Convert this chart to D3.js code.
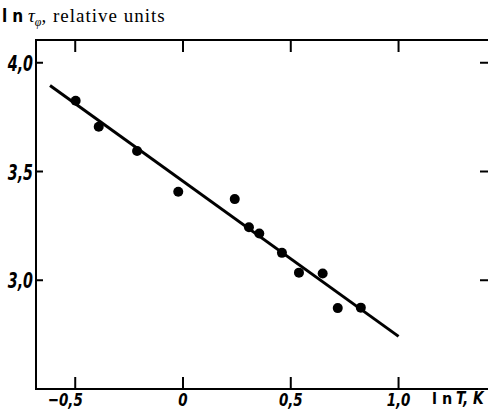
<!DOCTYPE html>
<html>
<head>
<meta charset="utf-8">
<script src="https://cdn.jsdelivr.net/npm/d3@7"></script>
<style>
  html, body { margin: 0; padding: 0; background: #fff; }
  svg { display: block; }
  .num { font-family: "DejaVu Sans Condensed", "DejaVu Sans", sans-serif; font-weight: bold; font-style: italic; }
  .ln { font-family: "DejaVu Sans Condensed", "DejaVu Sans", sans-serif; font-weight: bold; letter-spacing: 5px; }
  .serif { font-family: "Liberation Serif", "Times New Roman", serif; }
</style>
</head>
<body>
<div id="chart"></div>
<script>
// measured points (ln T, ln tau)
const lnT   = [-0.498, -0.391, -0.213, -0.022, 0.240, 0.306, 0.354, 0.459, 0.538, 0.648, 0.718, 0.825];
const lnTau = [3.825, 3.706, 3.594, 3.407, 3.373, 3.244, 3.215, 3.126, 3.035, 3.031, 2.872, 2.874];

// fitted line endpoints
const fitX = [-0.617, 1.0];
const fitY = [3.895, 2.742];

const xTicks = [-0.5, 0, 0.5, 1.0];
const xTickLabels = ["\u22120,5", "0", "0,5", "1,0"];
const yTicks = [3.0, 3.5, 4.0];
const yTickLabels = ["3,0", "3,5", "4,0"];

const width = 488, height = 415;
const plotL = 36, plotR = 488, plotT = 40, plotB = 389;

const svg = d3.select("#chart").append("svg")
  .attr("width", width)
  .attr("height", height);

const x = d3.scaleLinear().domain([-0.682, 1.415]).range([plotL, plotR]);
const y = d3.scaleLinear().domain([2.5, 4.1]).range([plotB, plotT + 1]);

// narrow text: squeeze horizontally to look like the print
function narrowText(cls, px, py, str, size, sx, anchor) {
  return svg.append("g")
    .attr("transform", `translate(${px},${py}) scale(${sx},1)`)
    .append("text")
    .attr("class", cls)
    .attr("font-size", size)
    .attr("text-anchor", anchor || "start")
    .text(str);
}

// frame
const frame = svg.append("g").attr("stroke", "#000").attr("stroke-width", 2).attr("fill", "none");
frame.append("line").attr("x1", plotL).attr("x2", plotL).attr("y1", plotT).attr("y2", plotB);
frame.append("line").attr("x1", plotL - 1).attr("x2", plotR).attr("y1", plotT).attr("y2", plotT);
frame.append("line").attr("x1", plotL - 1).attr("x2", plotR).attr("y1", plotB).attr("y2", plotB);

// x ticks (bottom + top, pointing inward)
frame.selectAll(".xb").data(xTicks).enter().append("line")
  .attr("x1", d => x(d)).attr("x2", d => x(d))
  .attr("y1", plotB).attr("y2", plotB - 12);
frame.selectAll(".xt").data(xTicks).enter().append("line")
  .attr("x1", d => x(d)).attr("x2", d => x(d))
  .attr("y1", plotT).attr("y2", plotT + 12);

// y ticks (left + right)
frame.selectAll(".yl").data(yTicks).enter().append("line")
  .attr("x1", plotL).attr("x2", plotL + 7)
  .attr("y1", d => y(d)).attr("y2", d => y(d));
frame.selectAll(".yr").data(yTicks).enter().append("line")
  .attr("x1", plotR - 8).attr("x2", plotR)
  .attr("y1", d => y(d)).attr("y2", d => y(d));

// tick labels
xTicks.forEach((d, i) => {
  narrowText("num", x(d) + (d < 0 ? -10 : 0), 406, xTickLabels[i], 18, 0.83, "middle");
});
yTicks.forEach((d, i) => {
  narrowText("num", 33, y(d) + 8, yTickLabels[i], 22, 0.72, "end");
});

// axis titles
narrowText("ln", 2, 22, "ln", 17, 1);
const yt = svg.append("text").attr("x", 28).attr("y", 22);
yt.append("tspan").attr("class", "serif").attr("font-style", "italic")
  .attr("font-size", 19).text("\u03C4");
yt.append("tspan").attr("class", "serif").attr("font-style", "italic")
  .attr("font-size", 12).attr("dy", 4).text("\u03C6");
yt.append("tspan").attr("class", "serif")
  .attr("font-size", 19).attr("dy", -4).attr("letter-spacing", 1).text(", relative units");

narrowText("ln", 432, 404, "ln", 16, 1);
narrowText("num", 456, 404, "T, K", 17, 0.9);

// fitted line
svg.append("line")
  .attr("x1", x(fitX[0])).attr("y1", y(fitY[0]))
  .attr("x2", x(fitX[1])).attr("y2", y(fitY[1]))
  .attr("stroke", "#000").attr("stroke-width", 3);

// points
svg.selectAll(".pt").data(lnT).enter().append("circle")
  .attr("cx", d => x(d))
  .attr("cy", (d, i) => y(lnTau[i]))
  .attr("r", 5)
  .attr("fill", "#000");
</script>
</body>
</html>
